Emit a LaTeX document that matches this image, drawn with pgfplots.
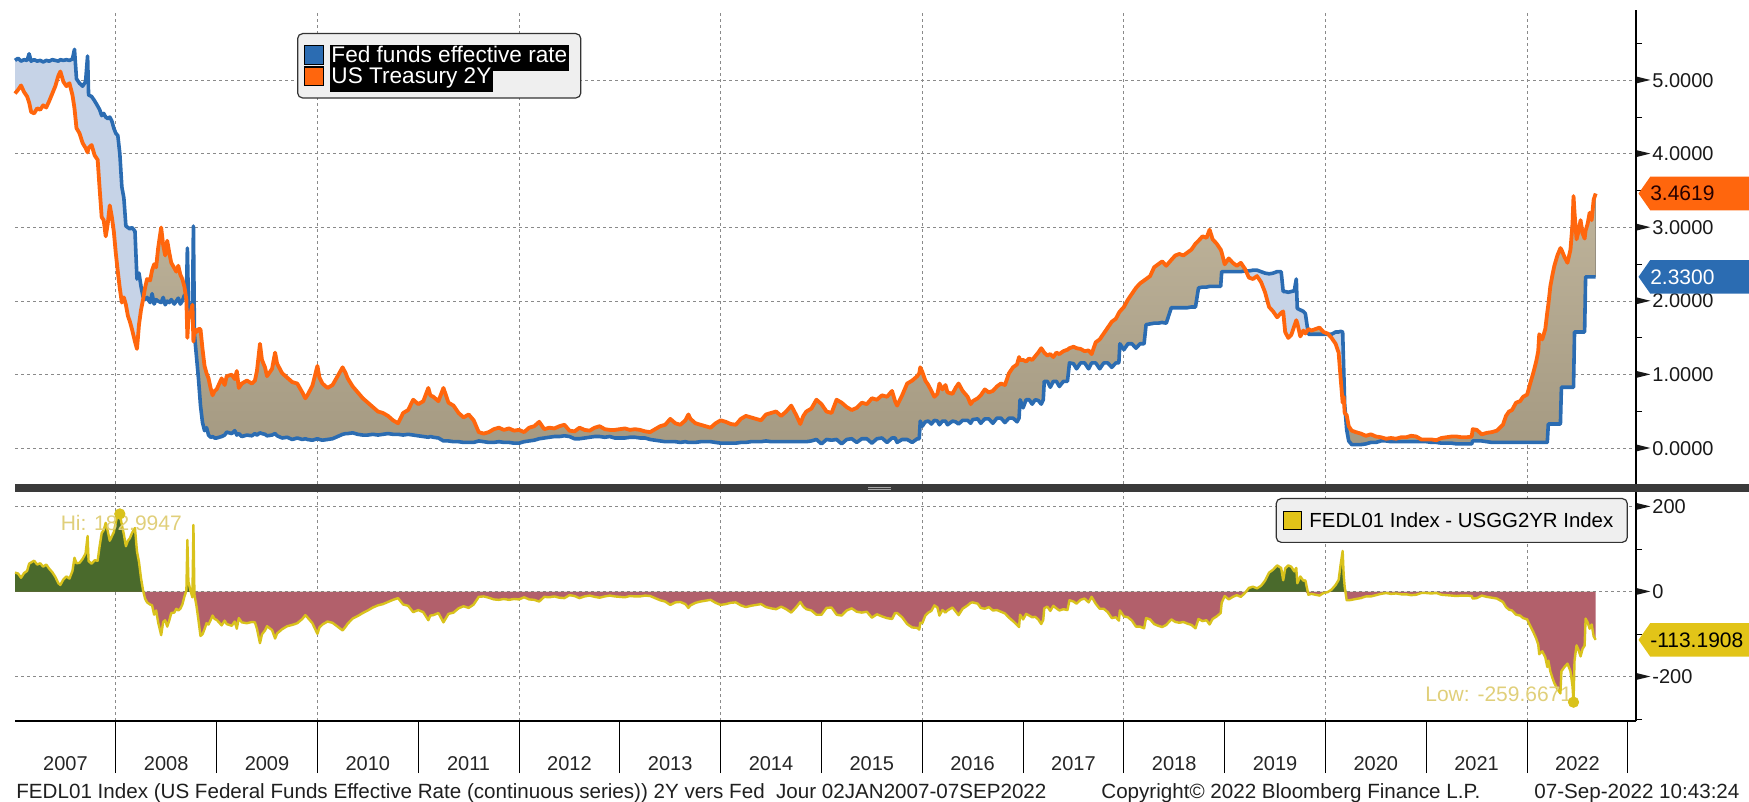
\documentclass[border=0pt]{standalone}
\usepackage{fontspec}
\setmainfont{Liberation Sans}
\usepackage{pgfplots}
\usepackage{pgfplotstable}
\pgfplotsset{compat=1.18}
\usepgfplotslibrary{fillbetween}
\usetikzlibrary{shapes.symbols}

\definecolor{fedblue}{HTML}{2B6CB2}
\definecolor{ustorange}{HTML}{FF660D}
\definecolor{gapblue}{HTML}{C6D3E7}
\definecolor{gaptantop}{HTML}{CEC3AA}
\definecolor{gaptanbot}{HTML}{A59A82}
\definecolor{sprgreen}{HTML}{4A6A2C}
\definecolor{sprrose}{HTML}{B2606B}
\definecolor{spryellow}{HTML}{D9C21C}
\definecolor{annoyellow}{HTML}{E0CF7A}
\definecolor{tagyellow}{HTML}{E2C418}
\definecolor{gridgray}{HTML}{8A8A8A}
\definecolor{legendfill}{HTML}{EFEFEF}
\definecolor{bardark}{HTML}{3A3A3A}

% small right-pointing tick marker in front of the y labels
\protected\def\tri{\tikz[baseline=0pt]\fill (0,1.95pt)--(6.7pt,3.6pt)--(0,5.25pt)--cycle;\hspace{1pt}}
\newcommand\hl[1]{{\setlength\fboxsep{0pt}\colorbox{black}{\strut\hspace{0.8pt}\textcolor{white}{#1}\hspace{0.8pt}}}}

% FEDL01 (fed) and USGG2YR (ust), percent
\pgfplotstableread{
x fed ust
2007.000 5.27 4.82
2007.030 5.30 4.87
2007.060 5.26 4.93
2007.090 5.28 4.84
2007.120 5.27 4.78
2007.140 5.36 4.70
2007.160 5.26 4.57
2007.190 5.28 4.55
2007.220 5.26 4.62
2007.250 5.27 4.60
2007.280 5.25 4.66
2007.310 5.27 4.63
2007.340 5.26 4.72
2007.370 5.28 4.82
2007.400 5.27 4.92
2007.430 5.26 5.06
2007.450 5.28 5.12
2007.480 5.27 4.98
2007.510 5.28 4.92
2007.540 5.27 4.96
2007.570 5.29 4.80
2007.590 5.42 4.62
2007.610 5.02 4.35
2007.640 4.96 4.28
2007.670 4.92 4.15
2007.700 4.98 4.08
2007.720 5.33 4.02
2007.730 4.80 4.08
2007.760 4.78 4.12
2007.790 4.72 3.98
2007.820 4.65 3.92
2007.840 4.60 3.52
2007.860 4.52 3.14
2007.880 4.55 3.10
2007.900 4.50 2.88
2007.920 4.48 3.05
2007.940 4.50 3.30
2007.960 4.45 3.15
2007.980 4.35 2.95
2008.000 4.28 2.65
2008.020 4.25 2.40
2008.040 4.00 2.1701
2008.060 3.55 1.98
2008.080 3.40 2.05
2008.100 3.02 1.95
2008.120 3.00 1.80
2008.140 2.98 1.72
2008.160 3.00 1.62
2008.190 2.95 1.45
2008.210 2.30 1.35
2008.230 2.38 1.68
2008.250 2.20 1.88
2008.270 2.06 2.02
2008.290 2.02 2.18
2008.310 2.05 2.30
2008.340 1.98 2.28
2008.360 2.10 2.42
2008.380 1.96 2.50
2008.400 2.02 2.46
2008.420 2.00 2.72
2008.450 1.98 3.00
2008.470 2.05 2.76
2008.490 1.95 2.62
2008.510 2.00 2.82
2008.530 1.98 2.66
2008.550 2.02 2.52
2008.580 1.96 2.45
2008.600 2.00 2.40
2008.620 2.04 2.48
2008.640 1.96 2.36
2008.660 2.00 2.30
2008.680 2.08 2.20
2008.700 2.05 2.02
2008.710 2.72 1.50
2008.720 2.00 1.76
2008.740 1.85 1.82
2008.760 1.82 1.95
2008.770 3.02 1.45
2008.780 1.55 1.62
2008.800 1.25 1.58
2008.820 0.95 1.62
2008.840 0.58 1.62
2008.860 0.35 1.35
2008.880 0.24 1.12
2008.900 0.28 1.02
2008.920 0.18 0.95
2008.940 0.15 0.82
2008.960 0.16 0.72
2008.980 0.14 0.78
2009.00 0.14 0.80
2009.05 0.16 0.95
2009.08 0.18 0.86
2009.10 0.22 0.98
2009.15 0.20 1.00
2009.18 0.24 0.94
2009.20 0.18 1.05
2009.22 0.20 0.82
2009.25 0.16 0.88
2009.30 0.18 0.92
2009.35 0.17 0.88
2009.38 0.20 0.92
2009.40 0.18 1.05
2009.43 0.21 1.42
2009.45 0.20 1.20
2009.48 0.19 1.10
2009.50 0.17 0.98
2009.55 0.18 1.08
2009.58 0.20 1.30
2009.60 0.17 1.15
2009.65 0.14 1.02
2009.70 0.15 0.96
2009.75 0.12 0.90
2009.80 0.14 0.88
2009.85 0.12 0.76
2009.88 0.13 0.68
2009.90 0.12 0.72
2009.95 0.11 0.85
2010.00 0.13 1.12
2010.02 0.12 0.96
2010.05 0.11 0.88
2010.10 0.12 0.82
2010.15 0.13 0.86
2010.20 0.16 0.98
2010.25 0.19 1.10
2010.28 0.20 1.02
2010.30 0.20 0.95
2010.35 0.21 0.84
2010.40 0.19 0.76
2010.45 0.18 0.68
2010.50 0.18 0.62
2010.55 0.19 0.56
2010.60 0.18 0.50
2010.65 0.19 0.48
2010.70 0.20 0.44
2010.75 0.19 0.38
2010.80 0.19 0.34
2010.85 0.18 0.48
2010.90 0.19 0.52
2010.95 0.18 0.66
2011.00 0.17 0.60
2011.05 0.16 0.64
2011.10 0.15 0.82
2011.12 0.16 0.72
2011.15 0.15 0.70
2011.20 0.14 0.64
2011.25 0.10 0.82
2011.28 0.10 0.70
2011.30 0.10 0.62
2011.35 0.09 0.58
2011.40 0.09 0.48
2011.45 0.08 0.42
2011.50 0.08 0.46
2011.55 0.08 0.38
2011.60 0.10 0.22
2011.65 0.09 0.20
2011.70 0.08 0.22
2011.75 0.08 0.26
2011.80 0.09 0.28
2011.85 0.08 0.25
2011.90 0.08 0.27
2011.95 0.07 0.24
2012.00 0.07 0.25
2012.05 0.09 0.22
2012.10 0.10 0.28
2012.15 0.11 0.30
2012.20 0.13 0.36
2012.25 0.14 0.26
2012.30 0.15 0.28
2012.35 0.16 0.27
2012.40 0.16 0.30
2012.45 0.17 0.32
2012.50 0.16 0.24
2012.55 0.13 0.23
2012.60 0.13 0.28
2012.65 0.14 0.25
2012.70 0.15 0.24
2012.75 0.16 0.28
2012.80 0.16 0.30
2012.85 0.15 0.26
2012.90 0.16 0.25
2012.95 0.14 0.25
2013.00 0.14 0.26
2013.05 0.14 0.27
2013.10 0.15 0.25
2013.15 0.15 0.26
2013.20 0.14 0.25
2013.25 0.14 0.23
2013.30 0.12 0.22
2013.35 0.11 0.26
2013.40 0.10 0.30
2013.45 0.09 0.32
2013.50 0.09 0.40
2013.55 0.09 0.34
2013.60 0.08 0.32
2013.65 0.09 0.38
2013.68 0.08 0.46
2013.70 0.08 0.40
2013.75 0.08 0.34
2013.80 0.09 0.32
2013.85 0.09 0.30
2013.90 0.09 0.28
2013.95 0.08 0.34
2014.00 0.07 0.38
2014.05 0.07 0.36
2014.10 0.07 0.33
2014.15 0.07 0.32
2014.20 0.08 0.40
2014.25 0.08 0.44
2014.30 0.09 0.42
2014.35 0.09 0.40
2014.40 0.09 0.38
2014.45 0.10 0.46
2014.50 0.09 0.48
2014.55 0.09 0.50
2014.60 0.09 0.44
2014.65 0.09 0.50
2014.70 0.09 0.58
2014.75 0.09 0.45
2014.79 0.09 0.33
2014.82 0.09 0.44
2014.85 0.09 0.50
2014.90 0.10 0.54
2014.95 0.12 0.66
2015.00 0.06 0.60
2015.05 0.12 0.50
2015.10 0.11 0.48
2015.15 0.12 0.66
2015.20 0.06 0.62
2015.25 0.12 0.56
2015.30 0.13 0.52
2015.35 0.08 0.55
2015.40 0.13 0.62
2015.45 0.13 0.60
2015.50 0.07 0.68
2015.55 0.13 0.66
2015.60 0.14 0.72
2015.65 0.08 0.70
2015.70 0.14 0.78
2015.73 0.14 0.64
2015.75 0.08 0.58
2015.80 0.12 0.72
2015.85 0.12 0.88
2015.90 0.08 0.92
2015.95 0.13 0.98
2015.97 0.13 1.02
2015.98 0.37 1.10
2016.00 0.30 1.04
2016.03 0.36 0.92
2016.06 0.37 0.86
2016.09 0.33 0.78
2016.12 0.38 0.70
2016.15 0.37 0.74
2016.17 0.32 0.88
2016.20 0.37 0.80
2016.23 0.37 0.86
2016.25 0.32 0.76
2016.30 0.37 0.74
2016.33 0.36 0.82
2016.36 0.33 0.88
2016.40 0.38 0.78
2016.45 0.38 0.70
2016.48 0.34 0.60
2016.50 0.39 0.64
2016.55 0.40 0.68
2016.58 0.34 0.72
2016.62 0.40 0.80
2016.66 0.40 0.76
2016.70 0.34 0.78
2016.74 0.41 0.84
2016.78 0.41 0.88
2016.82 0.35 0.86
2016.86 0.41 1.02
2016.90 0.41 1.10
2016.94 0.36 1.14
2016.96 0.41 1.24
2016.97 0.66 1.20
2017.00 0.55 1.20
2017.03 0.66 1.18
2017.06 0.66 1.22
2017.09 0.60 1.20
2017.12 0.66 1.25
2017.15 0.65 1.30
2017.18 0.60 1.36
2017.20 0.66 1.32
2017.21 0.91 1.30
2017.24 0.91 1.26
2017.27 0.83 1.28
2017.30 0.91 1.24
2017.33 0.91 1.30
2017.36 0.84 1.28
2017.40 0.91 1.32
2017.44 0.91 1.34
2017.46 1.16 1.36
2017.50 1.15 1.38
2017.53 1.08 1.36
2017.57 1.16 1.35
2017.61 1.16 1.32
2017.65 1.08 1.33
2017.68 1.16 1.28
2017.72 1.16 1.44
2017.76 1.08 1.48
2017.80 1.16 1.56
2017.84 1.16 1.64
2017.88 1.10 1.72
2017.92 1.16 1.76
2017.95 1.16 1.84
2017.96 1.42 1.86
2018.00 1.34 1.92
2018.04 1.42 2.02
2018.08 1.42 2.10
2018.12 1.36 2.18
2018.16 1.42 2.24
2018.20 1.42 2.28
2018.22 1.68 2.30
2018.26 1.69 2.34
2018.30 1.70 2.46
2018.34 1.70 2.50
2018.38 1.71 2.54
2018.42 1.70 2.48
2018.47 1.91 2.56
2018.51 1.91 2.62
2018.55 1.91 2.64
2018.59 1.91 2.62
2018.63 1.91 2.66
2018.67 1.92 2.70
2018.71 1.92 2.78
2018.74 2.18 2.82
2018.78 2.19 2.88
2018.82 2.19 2.86
2018.85 2.20 2.97
2018.88 2.20 2.84
2018.92 2.20 2.78
2018.96 2.20 2.70
2018.97 2.40 2.66
2019.00 2.40 2.50
2019.04 2.40 2.58
2019.08 2.40 2.52
2019.12 2.40 2.48
2019.16 2.40 2.52
2019.20 2.41 2.44
2019.24 2.41 2.32
2019.28 2.42 2.30
2019.32 2.42 2.34
2019.36 2.40 2.26
2019.40 2.38 2.12
2019.44 2.37 1.92
2019.48 2.38 1.86
2019.52 2.40 1.78
2019.56 2.40 1.84
2019.58 2.13 1.86
2019.60 2.13 1.58
2019.63 2.12 1.50
2019.66 2.13 1.54
2019.69 2.14 1.66
2019.71 2.30 1.74
2019.72 1.90 1.70
2019.75 1.88 1.52
2019.78 1.86 1.60
2019.80 1.83 1.56
2019.83 1.55 1.62
2019.86 1.55 1.60
2019.90 1.55 1.62
2019.94 1.55 1.64
2019.98 1.55 1.58
2020.02 1.55 1.56
2020.06 1.55 1.50
2020.10 1.58 1.42
2020.13 1.58 1.30
2020.15 1.59 0.95
2020.17 1.58 0.62
2020.18 1.10 0.70
2020.19 0.60 0.48
2020.21 0.25 0.45
2020.23 0.10 0.30
2020.26 0.05 0.24
2020.30 0.05 0.22
2020.35 0.05 0.20
2020.40 0.06 0.17
2020.45 0.08 0.19
2020.50 0.08 0.16
2020.55 0.10 0.15
2020.60 0.10 0.13
2020.65 0.09 0.14
2020.70 0.09 0.13
2020.75 0.09 0.15
2020.80 0.09 0.15
2020.85 0.09 0.17
2020.90 0.09 0.16
2020.95 0.09 0.12
2021.00 0.09 0.12
2021.05 0.08 0.12
2021.10 0.08 0.11
2021.15 0.07 0.14
2021.20 0.07 0.15
2021.25 0.07 0.16
2021.30 0.06 0.16
2021.35 0.06 0.15
2021.40 0.06 0.15
2021.45 0.06 0.16
2021.46 0.10 0.26
2021.50 0.10 0.25
2021.55 0.10 0.19
2021.60 0.09 0.21
2021.65 0.08 0.22
2021.70 0.08 0.24
2021.73 0.08 0.28
2021.76 0.08 0.32
2021.79 0.08 0.44
2021.82 0.08 0.50
2021.85 0.08 0.52
2021.89 0.08 0.62
2021.93 0.08 0.64
2021.96 0.08 0.70
2022.00 0.08 0.73
2022.03 0.08 0.88
2022.06 0.08 1.02
2022.09 0.08 1.18
2022.11 0.08 1.32
2022.12 0.08 1.55
2022.15 0.08 1.48
2022.18 0.08 1.62
2022.20 0.08 1.85
2022.21 0.33 1.95
2022.23 0.33 2.20
2022.25 0.33 2.35
2022.27 0.33 2.48
2022.30 0.33 2.62
2022.33 0.33 2.72
2022.34 0.83 2.70
2022.37 0.83 2.60
2022.40 0.83 2.52
2022.43 0.83 2.70
2022.45 0.83 3.05
2022.46 0.83 3.4267
2022.47 1.58 3.20
2022.49 1.58 2.84
2022.51 1.58 2.95
2022.53 1.58 3.10
2022.55 1.58 2.92
2022.57 1.58 2.85
2022.58 2.33 2.96
2022.60 2.33 3.05
2022.62 2.33 3.20
2022.64 2.33 3.10
2022.66 2.33 3.38
2022.68 2.33 3.4619
}\rates

\tikzset{
  tag/.style={signal, signal to=west, signal pointer angle=110, anchor=west,
    inner xsep=0pt, inner ysep=0pt, minimum height=16.8pt, text width=70pt,
    align=left, font=\fontsize{10.5}{12}\selectfont},
}
\pgfplotsset{
  bbgrid/.style={grid style={gridgray, line width=0.55pt, dash pattern=on 1.5pt off 1.5pt}},
}

\begin{document}
\begin{tikzpicture}[font=\fontsize{10}{12}\selectfont]

% upper panel: the two rates
\begin{axis}[
  at={(7.5pt,-5pt)}, anchor=north west,
  scale only axis, width=810.5pt, height=237pt,
  xmin=2007, xmax=2023.08, ymin=-0.485, ymax=5.955,
  clip=false,
  axis x line=bottom, axis y line=right,
  x axis line style={draw=none},
  y axis line style={black, line width=0.8pt, -},
  xtick={2008,2010,...,2022}, xticklabels={},
  major tick length=0pt,
  xmajorgrids, ymajorgrids, bbgrid,
  ytick={0,1,2,3,4,5},
  yticklabels={\tri0.0000,\tri1.0000,\tri2.0000,\tri3.0000,\tri4.0000,\tri5.0000},
  minor ytick={0.5,1.5,2.5,3.5,4.5,5.5},
  minor tick length=3pt, ytick align=outside,
  minor tick style={black, line width=0.5pt},
  yticklabel style={anchor=west, inner sep=0pt, xshift=0.3pt, text=black!90},
  legend style={at={(0.174,0.9515)}, anchor=north west, fill=legendfill,
    draw=black!80, line width=0.6pt, rounded corners=2.5pt,
    inner xsep=3pt, inner ysep=5.5pt, row sep=0pt,
    font=\fontsize{11.3}{13}\selectfont,
    nodes={inner xsep=3pt, inner ysep=0pt}},
  legend cell align=left,
  legend image code/.code={\fill[#1, sharp corners] (0pt,-4.7pt) rectangle (9.5pt,4.7pt);},
]
\addplot[draw=none, name path=F, forget plot] table[x=x, y=fed] {\rates};
\addplot[draw=none, name path=U, forget plot] table[x=x, y=ust] {\rates};
\addplot[draw=none, name path=M, forget plot] table[x=x, y expr={max(\thisrow{fed},\thisrow{ust})}] {\rates};
\addplot[gapblue, forget plot] fill between[of=U and M];
\addplot[top color=gaptantop, bottom color=gaptanbot, draw=none, forget plot] fill between[of=F and M];
\addplot[fedblue, line width=1.8pt, line join=round, forget plot] table[x=x, y=fed] {\rates};
\addplot[ustorange, line width=1.9pt, line join=round, forget plot] table[x=x, y=ust] {\rates};

\addlegendimage{fill=fedblue}
\addlegendentry{\hl{Fed funds effective rate}}
\addlegendimage{fill=ustorange}
\addlegendentry{\hl{US Treasury 2Y}}

\node[tag, fill=ustorange, text=black!85!red] at ([xshift=1pt]axis cs:2023.08,3.4619) {3.4619};
\node[tag, fill=fedblue, text=white] at ([xshift=1pt]axis cs:2023.08,2.33) {2.3300};
\end{axis}

% lower panel: spread in basis points
\begin{axis}[
  at={(7.5pt,-246pt)}, anchor=north west,
  scale only axis, width=810.5pt, height=114.5pt,
  xmin=2007, xmax=2023.08, ymin=-304, ymax=234.6,
  clip=false,
  axis x line=bottom, axis y line=right,
  axis line style={black, line width=0.8pt, -},
  xtick={2008,2009,...,2023},
  xticklabels={2007,2008,2009,2010,2011,2012,2013,2014,2015,2016,2017,2018,2019,2020,2021,2022},
  major tick length=26pt, xtick align=outside,
  xtick style={black, line width=0.4pt},
  xticklabel style={anchor=base, xshift=-25.2pt, yshift=1.5pt, inner sep=0pt, text=black!85},
  extra x ticks={2008,2010,...,2022}, extra x tick labels={},
  extra x tick style={grid=major, xtick style={draw=none}},
  ytick={-200,0,200}, yticklabels={\tri-200,\tri0,\tri200},
  ytick align=inside, ytick style={draw=none},
  ymajorgrids, bbgrid,
  extra y ticks={-300,-100,100}, extra y tick labels={},
  extra y tick style={ytick align=outside, major tick length=3pt, ytick style={draw=black, line width=0.5pt}, grid=none},
  yticklabel style={anchor=west, inner sep=0pt, xshift=0.3pt, text=black!90},
  legend style={at={(0.995,0.974)}, anchor=north east, fill=legendfill,
    draw=black!80, line width=0.6pt, rounded corners=2.5pt,
    inner xsep=3.5pt, inner ysep=6pt,
    font=\fontsize{10.2}{12}\selectfont,
    nodes={inner xsep=3.5pt, inner ysep=0pt}},
  legend image code/.code={\fill[#1, sharp corners] (0pt,-4.5pt) rectangle (9pt,4.5pt);},
]
\addplot[draw=none, name path=zero, forget plot] coordinates {(2007,0) (2022.68,0)};
\addplot[draw=none, name path=pos, forget plot] table[x=x, y expr={max(100*(\thisrow{fed}-\thisrow{ust}),0)}] {\rates};
\addplot[draw=none, name path=neg, forget plot] table[x=x, y expr={min(100*(\thisrow{fed}-\thisrow{ust}),0)}] {\rates};
\addplot[sprgreen, forget plot] fill between[of=pos and zero];
\addplot[sprrose, forget plot] fill between[of=neg and zero];
\addplot[spryellow, line width=1.2pt, line join=round, forget plot] table[x=x, y expr={100*(\thisrow{fed}-\thisrow{ust})}] {\rates};
\addplot[only marks, mark=*, mark size=2.6pt, spryellow, forget plot] coordinates {(2008.04,182.9947) (2022.46,-259.6671)};

\addlegendimage{fill=tagyellow}
\addlegendentry{\strut FEDL01 Index - USGG2YR Index}

\node[anchor=base west, inner sep=0pt, text=annoyellow, font=\fontsize{10.5}{12}\selectfont] at (axis cs:2007.45,143) {Hi: 182.9947};
\node[anchor=base east, inner sep=0pt, text=annoyellow, font=\fontsize{10.5}{12}\selectfont] at (axis cs:2022.45,-257) {Low: -259.6671};
\node[tag, fill=tagyellow, text=black] at ([xshift=1pt]axis cs:2023.08,-113.1908) {-113.1908};
\end{axis}

% panel divider
\fill[bardark] (7.5pt,-242pt) rectangle (874.5pt,-246pt);
\draw[gray!70, line width=0.4pt] (434pt,-243.6pt) -- (445.5pt,-243.6pt) (434pt,-244.6pt) -- (445.5pt,-244.6pt);

% footer
\begin{scope}[font=\fontsize{10.3}{12}\selectfont, text=black!88]
\node[anchor=base west, inner sep=0pt] at (8pt,-399pt) {FEDL01 Index (US Federal Funds Effective Rate (continuous series)) 2Y vers Fed\ \ Jour 02JAN2007-07SEP2022};
\node[anchor=base west, inner sep=0pt] at (550.5pt,-399pt) {Copyright\textcopyright{} 2022 Bloomberg Finance L.P.};
\node[anchor=base west, inner sep=0pt] at (767pt,-399pt) {07-Sep-2022 10:43:24};
\end{scope}

\pgfresetboundingbox
\path[use as bounding box] (0,0) rectangle (874.5pt,-401pt);
\end{tikzpicture}
\end{document}
